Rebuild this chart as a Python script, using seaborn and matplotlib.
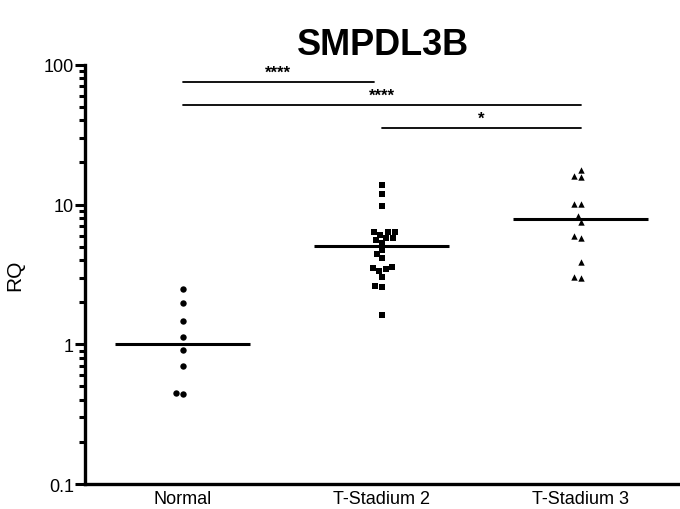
import matplotlib
matplotlib.use("Agg")
import matplotlib.pyplot as plt
import matplotlib.ticker as mticker
import seaborn as sns
import pandas as pd

categories = ["Normal", "T-Stadium 2", "T-Stadium 3"]
normal = [2.49, 1.97, 1.46, 1.12, 0.91, 0.70, 0.44, 0.45]
stadium2 = [13.9, 11.8, 9.84, 6.35, 6.35, 6.35, 6.10, 5.75, 5.75, 5.62, 5.32,
            4.74, 4.44, 4.13, 3.60, 3.54, 3.48, 3.37, 3.05, 2.63, 2.59, 1.63]
stadium3 = [17.7, 16.0, 15.7, 10.1, 10.1, 8.26, 7.48, 5.94, 5.75, 3.87, 3.05, 2.97]
markers = ["o", "s", "^"]
ytick_vals = [0.1, 1, 10, 100]
ytick_labels = ["0.1", "1", "10", "100"]
# significance comparisons: (from, to, height, label)
sig_pairs = [(0, 0.96, 75.5, "****"), (0, 2, 51.7, "****"), (1, 2, 35.4, "*")]

groups = [normal, stadium2, stadium3]
df = pd.DataFrame({
    "group": [c for c, g in zip(categories, groups) for _ in g],
    "RQ": [v for g in groups for v in g],
})

sns.set_theme(style="ticks")
plt.rcParams["font.family"] = ["Liberation Sans", "DejaVu Sans"]
for k in ["text.color", "axes.edgecolor", "axes.labelcolor", "xtick.color", "ytick.color"]:
    plt.rcParams[k] = "black"

fig = plt.figure(figsize=(6.8, 5.1), dpi=100)
ax = fig.add_axes([0.125, 0.049, 0.875, 0.822])
ax.set_yscale("log")

for cat, mk in zip(categories, markers):
    sns.swarmplot(data=df[df["group"] == cat], x="group", y="RQ", order=categories,
                  marker=mk, color="black", size=4.6, linewidth=0, ax=ax)

sns.boxplot(data=df, x="group", y="RQ", order=categories, width=0.68,
            showbox=False, showcaps=False, showfliers=False, whis=0,
            whiskerprops=dict(visible=False),
            medianprops=dict(color="black", linewidth=2.2), ax=ax)

for x0, x1, h, lab in sig_pairs:
    ax.plot([x0, x1], [h, h], color="black", lw=1.3, clip_on=False)
    ax.text((x0 + x1) / 2, h * 1.03, lab, ha="center", va="bottom",
            fontsize=12, fontweight="bold")

ax.set_xlim(-0.49, 2.5)
ax.set_ylim(0.1, 100)
ax.yaxis.set_major_locator(mticker.FixedLocator(ytick_vals))
ax.yaxis.set_major_formatter(mticker.FixedFormatter(ytick_labels))
ax.yaxis.set_minor_locator(mticker.LogLocator(base=10, subs=range(2, 10)))
ax.yaxis.set_minor_formatter(mticker.NullFormatter())
ax.tick_params(axis="y", which="major", length=7, width=2.2, labelsize=13, pad=1)
ax.tick_params(axis="y", which="minor", length=4, width=2.2)
ax.tick_params(axis="x", length=0, labelsize=13, pad=4)
for s in ["left", "bottom"]:
    ax.spines[s].set_linewidth(2.4)
ax.spines["top"].set_visible(False)
ax.spines["right"].set_visible(False)
ax.set_xlabel("")
ax.set_ylabel("RQ", fontsize=15, labelpad=14)
ax.set_title("SMPDL3B", fontsize=26, fontweight="bold", pad=8)

fig.savefig("out.png", dpi=100)
